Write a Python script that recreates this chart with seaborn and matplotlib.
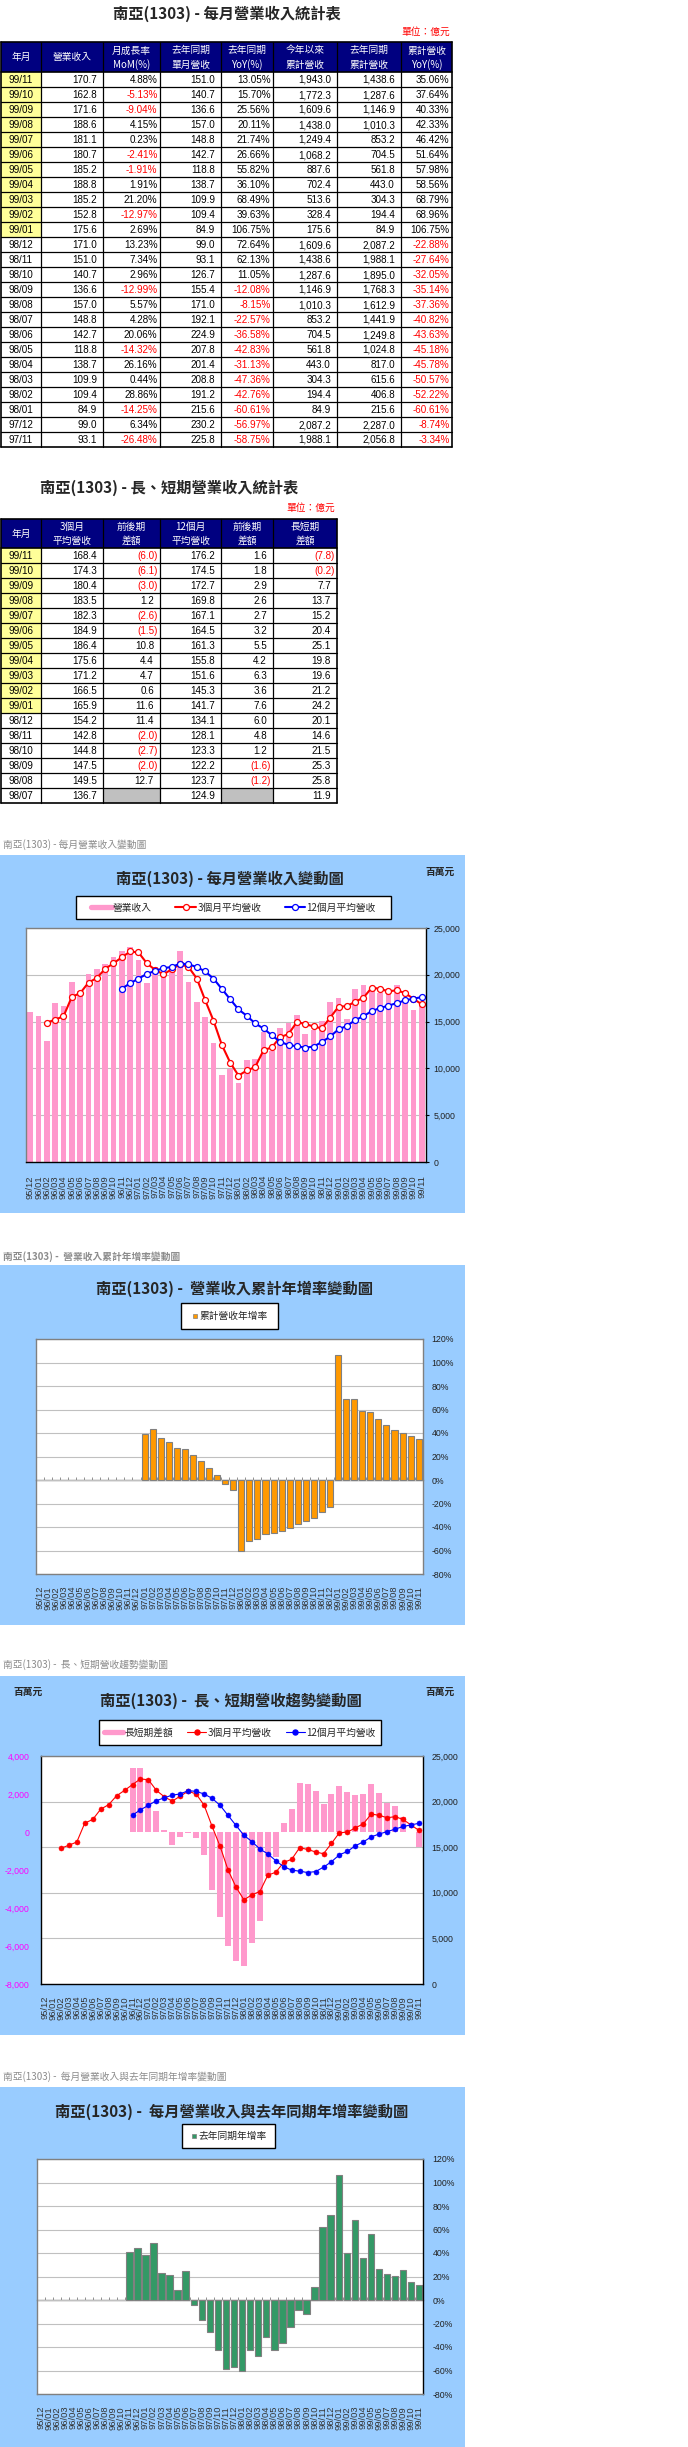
import numpy as np
import pandas as pd
import matplotlib
matplotlib.use("Agg")
import matplotlib.pyplot as plt
import seaborn as sns
from matplotlib import font_manager
from matplotlib.patches import Rectangle
from matplotlib.lines import Line2D
from matplotlib.legend import Legend
from matplotlib.ticker import FuncFormatter, FixedLocator

NaN = float("nan")

# ---------------- monthly chart data ----------------
months = ["95/12",
          "96/01", "96/02", "96/03", "96/04", "96/05", "96/06", "96/07", "96/08", "96/09", "96/10", "96/11", "96/12",
          "97/01", "97/02", "97/03", "97/04", "97/05", "97/06", "97/07", "97/08", "97/09", "97/10", "97/11", "97/12",
          "98/01", "98/02", "98/03", "98/04", "98/05", "98/06", "98/07", "98/08", "98/09", "98/10", "98/11", "98/12",
          "99/01", "99/02", "99/03", "99/04", "99/05", "99/06", "99/07", "99/08", "99/09", "99/10", "99/11"]

# monthly revenue (百萬元)
revenue = [16070, 15640, 12960, 17040, 16710, 19180, 18230, 20100, 20640, 21180, 21860, 22580, 23020,
           21560, 19120, 20880, 20140, 20780, 22490, 19210, 17100, 15540, 12670, 9310, 9900,
           8490, 10940, 10990, 13870, 11880, 14270, 14880, 15700, 13660, 14070, 15100, 17100,
           17560, 15280, 18520, 18880, 18520, 18070, 18110, 18860, 17160, 16280, 17070]

# 3-month average revenue (百萬元)
ma3 = [NaN, NaN, 14890, 15210, 15570, 17640, 18040, 19170, 19660, 20640, 21230, 21870, 22490,
       22390, 21230, 20520, 20050, 20600, 21140, 20830, 19600, 17280, 15100, 12510, 10630,
       9230, 9780, 10140, 11930, 12250, 13340, 13670, 14950, 14750, 14480, 14280, 15420,
       16590, 16650, 17120, 17560, 18640, 18490, 18230, 18350, 18040, 17430, 16840]

# 12-month average revenue (百萬元)
ma12 = [NaN, NaN, NaN, NaN, NaN, NaN, NaN, NaN, NaN, NaN, NaN, 18520, 19100,
        19590, 20100, 20420, 20710, 20840, 21200, 21120, 20830, 20360, 19590, 18490, 17390,
        16300, 15620, 14800, 14270, 13530, 12850, 12490, 12370, 12220, 12330, 12810, 13410,
        14170, 14530, 15160, 15580, 16130, 16450, 16710, 16980, 17270, 17450, 17620]

# long/short difference (百萬元)
ls_diff = [NaN, NaN, NaN, NaN, NaN, NaN, NaN, NaN, NaN, NaN, NaN, 3360, 3390,
           2800, 1130, 100, -660, -240, -60, -300, -1230, -3070, -4490, -5980, -6770,
           -7070, -5840, -4660, -2340, -1290, 490, 1190, 2580, 2530, 2150, 1460, 2010,
           2420, 2120, 1960, 1980, 2510, 2040, 1520, 1370, 770, -20, -780]

# cumulative revenue YoY (%)
cum_yoy = [NaN, NaN, NaN, NaN, NaN, NaN, NaN, NaN, NaN, NaN, NaN, NaN, NaN,
           39.1, 43.1, 35.5, 32.1, 27.0, 26.1, 21.0, 16.2, 9.9, 4.0, -3.34, -8.74,
           -60.61, -52.22, -50.57, -45.78, -45.18, -43.63, -40.82, -37.36, -35.14, -32.05, -27.64, -22.88,
           106.75, 68.96, 68.79, 58.56, 57.98, 51.64, 46.42, 42.33, 40.33, 37.64, 35.06]

# single month YoY (%)
yoy = [NaN, NaN, NaN, NaN, NaN, NaN, NaN, NaN, NaN, NaN, NaN, 40.6, 44.0,
       38.0, 48.2, 22.7, 21.0, 8.2, 24.4, -4.5, -17.0, -27.2, -42.6, -58.75, -56.97,
       -60.61, -42.76, -47.36, -31.13, -42.83, -36.58, -22.57, -8.15, -12.08, 11.05, 62.13, 72.64,
       106.75, 39.63, 68.49, 36.10, 55.82, 26.66, 21.74, 20.11, 25.56, 15.70, 13.05]

# ---------------- table 1 (億元) ----------------
t1_month = ["99/11", "99/10", "99/09", "99/08", "99/07", "99/06", "99/05", "99/04", "99/03", "99/02", "99/01",
            "98/12", "98/11", "98/10", "98/09", "98/08", "98/07", "98/06", "98/05", "98/04", "98/03", "98/02", "98/01",
            "97/12", "97/11"]
t1_rev = [170.7, 162.8, 171.6, 188.6, 181.1, 180.7, 185.2, 188.8, 185.2, 152.8, 175.6,
          171.0, 151.0, 140.7, 136.6, 157.0, 148.8, 142.7, 118.8, 138.7, 109.9, 109.4, 84.9, 99.0, 93.1]
t1_mom = [4.88, -5.13, -9.04, 4.15, 0.23, -2.41, -1.91, 1.91, 21.20, -12.97, 2.69,
          13.23, 7.34, 2.96, -12.99, 5.57, 4.28, 20.06, -14.32, 26.16, 0.44, 28.86, -14.25, 6.34, -26.48]
t1_prev = [151.0, 140.7, 136.6, 157.0, 148.8, 142.7, 118.8, 138.7, 109.9, 109.4, 84.9,
           99.0, 93.1, 126.7, 155.4, 171.0, 192.1, 224.9, 207.8, 201.4, 208.8, 191.2, 215.6, 230.2, 225.8]
t1_yoy = [13.05, 15.70, 25.56, 20.11, 21.74, 26.66, 55.82, 36.10, 68.49, 39.63, 106.75,
          72.64, 62.13, 11.05, -12.08, -8.15, -22.57, -36.58, -42.83, -31.13, -47.36, -42.76, -60.61, -56.97, -58.75]
t1_cum = [1943.0, 1772.3, 1609.6, 1438.0, 1249.4, 1068.2, 887.6, 702.4, 513.6, 328.4, 175.6,
          1609.6, 1438.6, 1287.6, 1146.9, 1010.3, 853.2, 704.5, 561.8, 443.0, 304.3, 194.4, 84.9, 2087.2, 1988.1]
t1_prevcum = [1438.6, 1287.6, 1146.9, 1010.3, 853.2, 704.5, 561.8, 443.0, 304.3, 194.4, 84.9,
              2087.2, 1988.1, 1895.0, 1768.3, 1612.9, 1441.9, 1249.8, 1024.8, 817.0, 615.6, 406.8, 215.6, 2287.0, 2056.8]
t1_cumyoy = [35.06, 37.64, 40.33, 42.33, 46.42, 51.64, 57.98, 58.56, 68.79, 68.96, 106.75,
             -22.88, -27.64, -32.05, -35.14, -37.36, -40.82, -43.63, -45.18, -45.78, -50.57, -52.22, -60.61, -8.74, -3.34]
t1_headers = [["年月"], ["營業收入"], ["月成長率", "MoM(%)"], ["去年同期", "單月營收"], ["去年同期", "YoY(%)"],
              ["今年以來", "累計營收"], ["去年同期", "累計營收"], ["累計營收", "YoY(%)"]]

# ---------------- table 2 (億元) ----------------
t2_month = ["99/11", "99/10", "99/09", "99/08", "99/07", "99/06", "99/05", "99/04", "99/03", "99/02", "99/01",
            "98/12", "98/11", "98/10", "98/09", "98/08", "98/07"]
t2_ma3 = [168.4, 174.3, 180.4, 183.5, 182.3, 184.9, 186.4, 175.6, 171.2, 166.5, 165.9,
          154.2, 142.8, 144.8, 147.5, 149.5, 136.7]
t2_d3 = [-6.0, -6.1, -3.0, 1.2, -2.6, -1.5, 10.8, 4.4, 4.7, 0.6, 11.6,
         11.4, -2.0, -2.7, -2.0, 12.7, NaN]
t2_ma12 = [176.2, 174.5, 172.7, 169.8, 167.1, 164.5, 161.3, 155.8, 151.6, 145.3, 141.7,
           134.1, 128.1, 123.3, 122.2, 123.7, 124.9]
t2_d12 = [1.6, 1.8, 2.9, 2.6, 2.7, 3.2, 5.5, 4.2, 6.3, 3.6, 7.6,
          6.0, 4.8, 1.2, -1.6, -1.2, NaN]
t2_ls = [-7.8, -0.2, 7.7, 13.7, 15.2, 20.4, 25.1, 19.8, 19.6, 21.2, 24.2,
         20.1, 14.6, 21.5, 25.3, 25.8, 11.9]
t2_headers = [["年月"], ["3個月", "平均營收"], ["前後期", "差額"], ["12個月", "平均營收"], ["前後期", "差額"], ["長短期", "差額"]]

# ---------------- axis ticks ----------------
rev_ticks = [0, 5000, 10000, 15000, 20000, 25000]
diff_ticks = [-8000, -6000, -4000, -2000, 0, 2000, 4000]
pct_ticks = [-80, -60, -40, -20, 0, 20, 40, 60, 80, 100, 120]

# ---------------- style ----------------
sns.set_theme(style="white")
_names = {f.name for f in font_manager.fontManager.ttflist}
if "Liberation Sans Narrow" in _names:
    NUM, NS = "Liberation Sans Narrow", 1.0
else:
    NUM, NS = "Liberation Sans", 0.84
CJK = "Noto Sans CJK TC"
plt.rcParams["font.family"] = [NUM, CJK, "DejaVu Sans"]
plt.rcParams["axes.unicode_minus"] = False
CJKF = [CJK, "DejaVu Sans"]

PINK, RED, BLUE = "#FF99CC", "#FF0000", "#0000FF"
ORANGE, GREEN = "#FF9900", "#339966"
PANEL = "#99CCFF"
NAVY, YEL = "#000080", "#FFFF99"

W, H, DPI = 688, 2447, 100
fig = plt.figure(figsize=(W / DPI, H / DPI), dpi=DPI)
fig.patch.set_facecolor("white")
cv = fig.add_axes([0, 0, 1, 1])
cv.set_xlim(0, W)
cv.set_ylim(H, 0)
cv.axis("off")


def fr(x0, y0, x1, y1):
    return [x0 / W, 1 - y1 / H, (x1 - x0) / W, (y1 - y0) / H]


# ---------------- tables ----------------
def draw_table(edges, top, hh, rh, headers, rows):
    n = len(rows)
    bottom = top + hh + rh * n
    cv.add_patch(Rectangle((edges[0], top), edges[-1] - edges[0], hh, fc=NAVY, ec="none", zorder=1))
    for j, h in enumerate(headers):
        cx = (edges[j] + edges[j + 1]) / 2
        if len(h) == 1:
            cv.text(cx, top + hh / 2, h[0], color="white", fontsize=7, ha="center", va="center", family=CJKF, zorder=3)
        else:
            cv.text(cx, top + hh * 0.28, h[0], color="white", fontsize=7, ha="center", va="center", family=CJKF, zorder=3)
            cv.text(cx, top + hh * 0.76, h[1], color="white", fontsize=7, ha="center", va="center", family=CJKF, zorder=3)
    for r, row in enumerate(rows):
        y0 = top + hh + rh * r
        for j, (txt, col, fill, pad) in enumerate(row):
            if fill is not None:
                cv.add_patch(Rectangle((edges[j], y0), edges[j + 1] - edges[j], rh, fc=fill, ec="none", zorder=1))
            if txt:
                if pad is None:
                    cv.text((edges[j] + edges[j + 1]) / 2, y0 + rh / 2 + 0.5, txt, color=col,
                            fontsize=8.5 * NS, ha="center", va="center", family=NUM, zorder=3)
                else:
                    cv.text(edges[j + 1] - pad, y0 + rh / 2 + 0.5, txt, color=col,
                            fontsize=8.5 * NS, ha="right", va="center", family=NUM, zorder=3)
    for r in range(n + 1):
        y = top + hh + rh * r
        cv.plot([edges[0], edges[-1]], [y, y], color="black", lw=1.2 if r in (0, n) else 0.9, zorder=4)
    cv.plot([edges[0], edges[-1]], [top, top], color="black", lw=1.2, zorder=4)
    for k, e in enumerate(edges):
        cv.plot([e, e], [top, bottom], color="black", lw=1.2 if k in (0, len(edges) - 1) else 0.9, zorder=4)


def neg_col(v):
    return RED if v < 0 else "black"


rows1 = []
for i, m in enumerate(t1_month):
    rows1.append([
        (m, "black", YEL if m.startswith("99") else None, None),
        (f"{t1_rev[i]:,.1f}", "black", None, 6),
        (f"{t1_mom[i]:.2f}%", neg_col(t1_mom[i]), None, 2.5),
        (f"{t1_prev[i]:,.1f}", "black", None, 6),
        (f"{t1_yoy[i]:.2f}%", neg_col(t1_yoy[i]), None, 2.5),
        (f"{t1_cum[i]:,.1f}", "black", None, 6),
        (f"{t1_prevcum[i]:,.1f}", "black", None, 6),
        (f"{t1_cumyoy[i]:.2f}%", neg_col(t1_cumyoy[i]), None, 2.5),
    ])


def acct(v):
    if np.isnan(v):
        return ("", "black", "#C0C0C0", 6)
    if v < 0:
        return (f"({abs(v):.1f})", RED, None, 2.5)
    return (f"{v:.1f}", "black", None, 6)


rows2 = []
for i, m in enumerate(t2_month):
    rows2.append([
        (m, "black", YEL if m.startswith("99") else None, None),
        (f"{t2_ma3[i]:.1f}", "black", None, 6),
        acct(t2_d3[i]),
        (f"{t2_ma12[i]:.1f}", "black", None, 6),
        acct(t2_d12[i]),
        acct(t2_ls[i]),
    ])

cv.text(227, 14, "南亞(1303) - 每月營業收入統計表", fontsize=11, fontweight="bold", ha="center", va="center", family=CJKF)
cv.text(450, 32, "單位：億元", fontsize=7, color=RED, ha="right", va="center", family=CJKF)
draw_table([0.6, 41, 103, 160, 221, 273, 337, 401, 452], 42, 30, 15, t1_headers, rows1)

cv.text(169, 488, "南亞(1303) - 長、短期營業收入統計表", fontsize=11, fontweight="bold", ha="center", va="center", family=CJKF)
cv.text(335, 508, "單位：億元", fontsize=7, color=RED, ha="right", va="center", family=CJKF)
draw_table([0.6, 41, 103, 160, 221, 273, 337], 519, 29, 15, t2_headers, rows2)

# ---------------- chart panels ----------------
df = pd.DataFrame({"month": months, "revenue": revenue, "ma3": ma3, "ma12": ma12,
                   "ls_diff": ls_diff, "cum_yoy": cum_yoy, "yoy": yoy})
N = len(months)

panels = [(855, 1213, 845, "南亞(1303) - 每月營業收入變動圖", "normal"),
          (1265, 1625, 1257, "南亞(1303) -  營業收入累計年增率變動圖", "bold"),
          (1676, 2035, 1665, "南亞(1303) -  長、短期營收趨勢變動圖", "normal"),
          (2087, 2447, 2077, "南亞(1303) -  每月營業收入與去年同期年增率變動圖", "normal")]
for y0, y1, cy, cap, wt in panels:
    cv.add_patch(Rectangle((0, y0), 465, y1 - y0, fc=PANEL, ec="none", zorder=0.5))
    cv.text(3, cy, cap, fontsize=7, color="#8C8C8C", ha="left", va="center", family=CJKF, fontweight=wt)

titles = [(230, 879, "南亞(1303) - 每月營業收入變動圖"),
          (235, 1289, "南亞(1303) -  營業收入累計年增率變動圖"),
          (231, 1701, "南亞(1303) -  長、短期營收趨勢變動圖"),
          (232, 2112, "南亞(1303) -  每月營業收入與去年同期年增率變動圖")]
for x, y, t in titles:
    cv.text(x, y, t, fontsize=11, fontweight="bold", ha="center", va="center", family=CJKF, zorder=3)
for x, y in [(440, 872), (28, 1692), (440, 1692)]:
    cv.text(x, y, "百萬元", fontsize=7, fontweight="bold", ha="center", va="center", family=CJKF, zorder=3)


def legend_box(box, handles, labels, hl, cs):
    x0, y0, x1, y1 = box
    cv.add_patch(Rectangle((x0, y0), x1 - x0, y1 - y0, fc="white", ec="black", lw=1.0, zorder=3))
    leg = Legend(cv, handles, labels, loc="center", bbox_to_anchor=((x0 + x1) / 2, (y0 + y1) / 2),
                 bbox_transform=cv.transData, frameon=False, ncol=len(labels),
                 prop={"family": CJKF, "size": 7}, borderpad=0, borderaxespad=0,
                 handlelength=hl, handletextpad=0.15, columnspacing=cs)
    leg.set_zorder(4)
    cv.add_artist(leg)


def xlabels(ax, pad):
    ax.set_xticks(np.arange(N), labels=months)
    ax.tick_params(axis="x", bottom=False, top=False, length=0, labelrotation=90,
                   labelsize=8 * NS, labelcolor="#333333", pad=pad)
    for t in ax.get_xticklabels():
        t.set_fontfamily(NUM)
    ax.set_xlim(-0.5, N - 0.5)
    ax.set_xlabel("")


def yfont(ax):
    for tk in ax.yaxis.get_major_ticks():
        tk.label1.set_fontfamily(NUM)
        tk.label2.set_fontfamily(NUM)


comma = FuncFormatter(lambda v, p: f"{v:,.0f}")
pctf = FuncFormatter(lambda v, p: f"{v:.0f}%")

# ---- chart 1 ----
ax1 = fig.add_axes(fr(26, 928, 426, 1162))
ax1.set_facecolor("white")
sns.barplot(data=df, x="month", y="revenue", order=months, color=PINK, saturation=1,
            width=0.68, linewidth=0, errorbar=None, ax=ax1)
for col, c in (("ma3", RED), ("ma12", BLUE)):
    sns.pointplot(data=df, x="month", y=col, order=months, color=c, errorbar=None, markers="o",
                  linewidth=1.5, markersize=4.3, markerfacecolor="white", markeredgecolor=c,
                  markeredgewidth=0.9, ax=ax1)
ax1.set_ylim(0, 25000)
ax1.yaxis.set_major_locator(FixedLocator(rev_ticks))
ax1.yaxis.set_major_formatter(comma)
ax1.yaxis.tick_right()
ax1.tick_params(axis="y", right=True, left=False, length=2.5, width=0.8, color="black",
                pad=3, labelsize=7.5 * NS, labelcolor="#222222", direction="out")
ax1.grid(axis="y", color="#C0C0C0", lw=0.8)
ax1.grid(axis="x", visible=False)
ax1.set_axisbelow(True)
ax1.set_ylabel("")
xlabels(ax1, 9.4)
yfont(ax1)
for s, c in (("left", "#808080"), ("top", "#808080"), ("right", "black"), ("bottom", "black")):
    ax1.spines[s].set_visible(True)
    ax1.spines[s].set_color(c)
    ax1.spines[s].set_linewidth(1.0)

legend_box((76, 896, 391, 919),
           [Line2D([], [], color=PINK, lw=3.8),
            Line2D([], [], color=RED, lw=1.5, marker="o", ms=4.3, mfc="white", mec=RED, mew=0.9),
            Line2D([], [], color=BLUE, lw=1.5, marker="o", ms=4.3, mfc="white", mec=BLUE, mew=0.9)],
           ["營業收入", "3個月平均營收", "12個月平均營收"], 2.1, 2.4)


def pct_chart(rect, col, color, width, right_spine):
    ax = fig.add_axes(fr(*rect))
    ax.set_facecolor("white")
    sns.barplot(data=df, x="month", y=col, order=months, color=color, saturation=1, width=width,
                edgecolor="#808080", linewidth=0.8, errorbar=None, ax=ax)
    ax.set_ylim(pct_ticks[0], pct_ticks[-1])
    ax.yaxis.set_major_locator(FixedLocator(pct_ticks))
    ax.yaxis.set_major_formatter(pctf)
    ax.yaxis.tick_right()
    ax.tick_params(axis="y", right=True, left=False, length=0, pad=6.5,
                   labelsize=7.5 * NS, labelcolor="#222222")
    ax.grid(axis="y", color="#C0C0C0", lw=0.8)
    ax.grid(axis="x", visible=False)
    ax.set_axisbelow(True)
    ax.set_ylabel("")
    xlabels(ax, 8.6)
    yfont(ax)
    for s in ("left", "top", "right", "bottom"):
        ax.spines[s].set_visible(True)
        ax.spines[s].set_color("#808080")
        ax.spines[s].set_linewidth(1.0)
    ax.spines["right"].set_color(right_spine)
    lo, hi = ax.get_ylim()
    sec = ax.secondary_xaxis((0 - lo) / (hi - lo))
    sec.set_xticks(np.arange(-0.5, N, 1.0))
    sec.tick_params(axis="x", length=2.2, width=0.6, color="#808080", direction="in",
                    labelbottom=False, labeltop=False, bottom=True, top=False)
    sec.spines["bottom"].set_color("#808080")
    sec.spines["bottom"].set_linewidth(1.0)
    return ax


# ---- chart 2 ----
pct_chart((35.7, 1339, 422.7, 1574), "cum_yoy", ORANGE, 0.75, "#808080")
legend_box((181, 1303, 278, 1329),
           [Line2D([], [], ls="none", marker="s", ms=3.4, mfc=ORANGE, mec="#808080", mew=0.5)],
           ["累計營收年增率"], 0.6, 1.0)

# ---- chart 3 ----
axg = fig.add_axes(fr(41, 1756, 423, 1984))
axg.set_facecolor("white")
axg.set_ylim(0, 25000)
axg.yaxis.set_major_locator(FixedLocator(rev_ticks))
axg.grid(axis="y", color="#C0C0C0", lw=0.8)
axb = axg.twinx()
axl = axg.twinx()
sns.barplot(data=df, x="month", y="ls_diff", order=months, color=PINK, saturation=1,
            width=0.75, linewidth=0, errorbar=None, ax=axb)
for col, c in (("ma3", RED), ("ma12", BLUE)):
    sns.pointplot(data=df, x="month", y=col, order=months, color=c, errorbar=None, markers="o",
                  linewidth=0.8, markersize=3.6, markeredgewidth=0.4, ax=axl)
axg.tick_params(axis="y", left=False, right=False, labelleft=False, labelright=False)
axb.set_ylim(diff_ticks[0], diff_ticks[-1])
axb.yaxis.set_major_locator(FixedLocator(diff_ticks))
axb.yaxis.set_major_formatter(comma)
axb.yaxis.tick_left()
axb.tick_params(axis="y", length=0, pad=8.5, labelsize=7.5 * NS, labelcolor="#FF00FF")
axb.set_ylabel("")
axl.set_ylim(0, 25000)
axl.yaxis.set_major_locator(FixedLocator(rev_ticks))
axl.yaxis.set_major_formatter(comma)
axl.yaxis.tick_right()
axl.tick_params(axis="y", length=0, pad=6.3, labelsize=7.5 * NS, labelcolor="#222222")
axl.set_ylabel("")
for a in (axb, axl):
    for s in a.spines.values():
        s.set_visible(False)
    a.grid(False)
xlabels(axg, 8.6)
yfont(axb)
yfont(axl)
for s, c in (("left", "black"), ("top", "#808080"), ("right", "black"), ("bottom", "black")):
    axg.spines[s].set_visible(True)
    axg.spines[s].set_color(c)
    axg.spines[s].set_linewidth(1.0)
legend_box((99, 1720, 381, 1745),
           [Line2D([], [], color=PINK, lw=3.8),
            Line2D([], [], color=RED, lw=0.8, marker="o", ms=3.6, mfc=RED, mec=RED),
            Line2D([], [], color=BLUE, lw=0.8, marker="o", ms=3.6, mfc=BLUE, mec=BLUE)],
           ["長短期差額", "3個月平均營收", "12個月平均營收"], 1.95, 1.45)

# ---- chart 4 ----
ax4 = pct_chart((36.7, 2159, 423.3, 2394), "yoy", GREEN, 0.8, "black")
legend_box((182, 2124, 275, 2148),
           [Line2D([], [], ls="none", marker="s", ms=3.4, mfc=GREEN, mec="#808080", mew=0.5)],
           ["去年同期年增率"], 0.6, 1.0)

fig.savefig("out.png", dpi=DPI, facecolor="white")
